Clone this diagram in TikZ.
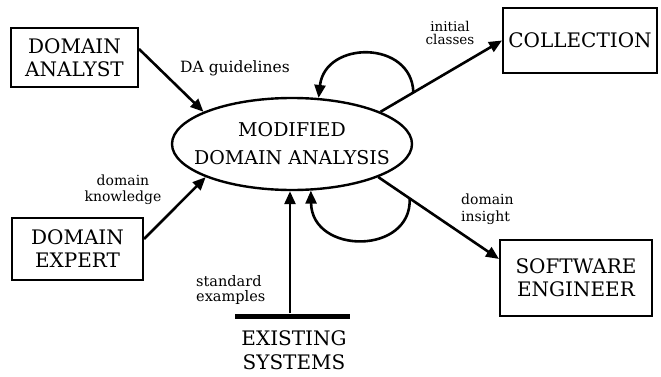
\documentclass[tikz,border=0pt]{standalone}
\usepackage{fontspec}
\setmainfont{DejaVu Serif}
\usetikzlibrary{shapes.geometric,arrows.meta,calc}
\begin{document}
\begin{tikzpicture}[x=1pt,y=1pt,
  box/.style={draw,line width=2pt,inner sep=0pt,align=center,font=\fontsize{20}{23}\selectfont},
  arr/.style={line width=2.6pt,-{Triangle[length=13pt,width=11pt]}},
  lbl/.style={inner sep=0pt,font=\fontsize{15.5}{16}\selectfont}]
\useasboundingbox (0,0) rectangle (661,376);
\node[box,minimum width=127,minimum height=59] (da) at (74.5,318.5) {DOMAIN\\ANALYST};
\node[box,minimum width=131,minimum height=62] (de) at (77.5,127) {DOMAIN\\EXPERT};
\node[box,minimum width=154,minimum height=65] (col) at (580,335.5) {COLLECTION};
\node[box,minimum width=152,minimum height=76] (se) at (576,98) {SOFTWARE\\ENGINEER};
\node[draw,ellipse,line width=2.4pt,minimum width=240,minimum height=92,inner xsep=-40pt,inner ysep=-20pt,align=center,font=\fontsize{19}{28}\selectfont] (mda) at (292,232) {MODIFIED\\DOMAIN ANALYSIS};
\node[fill,minimum width=115,minimum height=5,inner sep=0pt] (bar) at (292.5,60) {};
\node[inner sep=0pt,align=center,font=\fontsize{20}{24}\selectfont] (es) at (294,26) {EXISTING\\SYSTEMS};
\coordinate (vx) at (290,0);
% labels
\node[lbl] (l1) at (235,308) {DA guidelines};
\node[lbl,align=center,font=\fontsize{13.5}{13}\selectfont] (l2) at (450,343) {initial\\classes};
\node[lbl,align=center,font=\fontsize{14}{16}\selectfont] (l3) at (123,186) {domain\\knowledge};
\node[lbl,align=left,anchor=west,font=\fontsize{14}{17}\selectfont] (l4) at (461,167) {domain\\insight};
\node[lbl,align=left,anchor=west,font=\fontsize{14.5}{15}\selectfont] (l5) at (196,86) {standard\\examples};
% connectors
\draw[arr] ($(da.north east)+(0,-22)$) -- (mda.160);
\draw[arr] ($(de.north east)+(0,-22)$) -- (mda.201);
\draw[arr] (mda.20) -- coordinate[pos=0.27] (c1) (col.west);
\draw[arr] (mda.-21) -- coordinate[pos=0.26] (c2) ($(se.north west)+(0,-20)$);
\draw[arr] (bar.north -| vx) -- (mda.south -| vx);
\draw[arr] (c1) .. controls (412,336) and (325,336) .. (mda.60);
\draw[arr] (c2) .. controls (412,121) and (312,121) .. (mda.-68);
\end{tikzpicture}
\end{document}
